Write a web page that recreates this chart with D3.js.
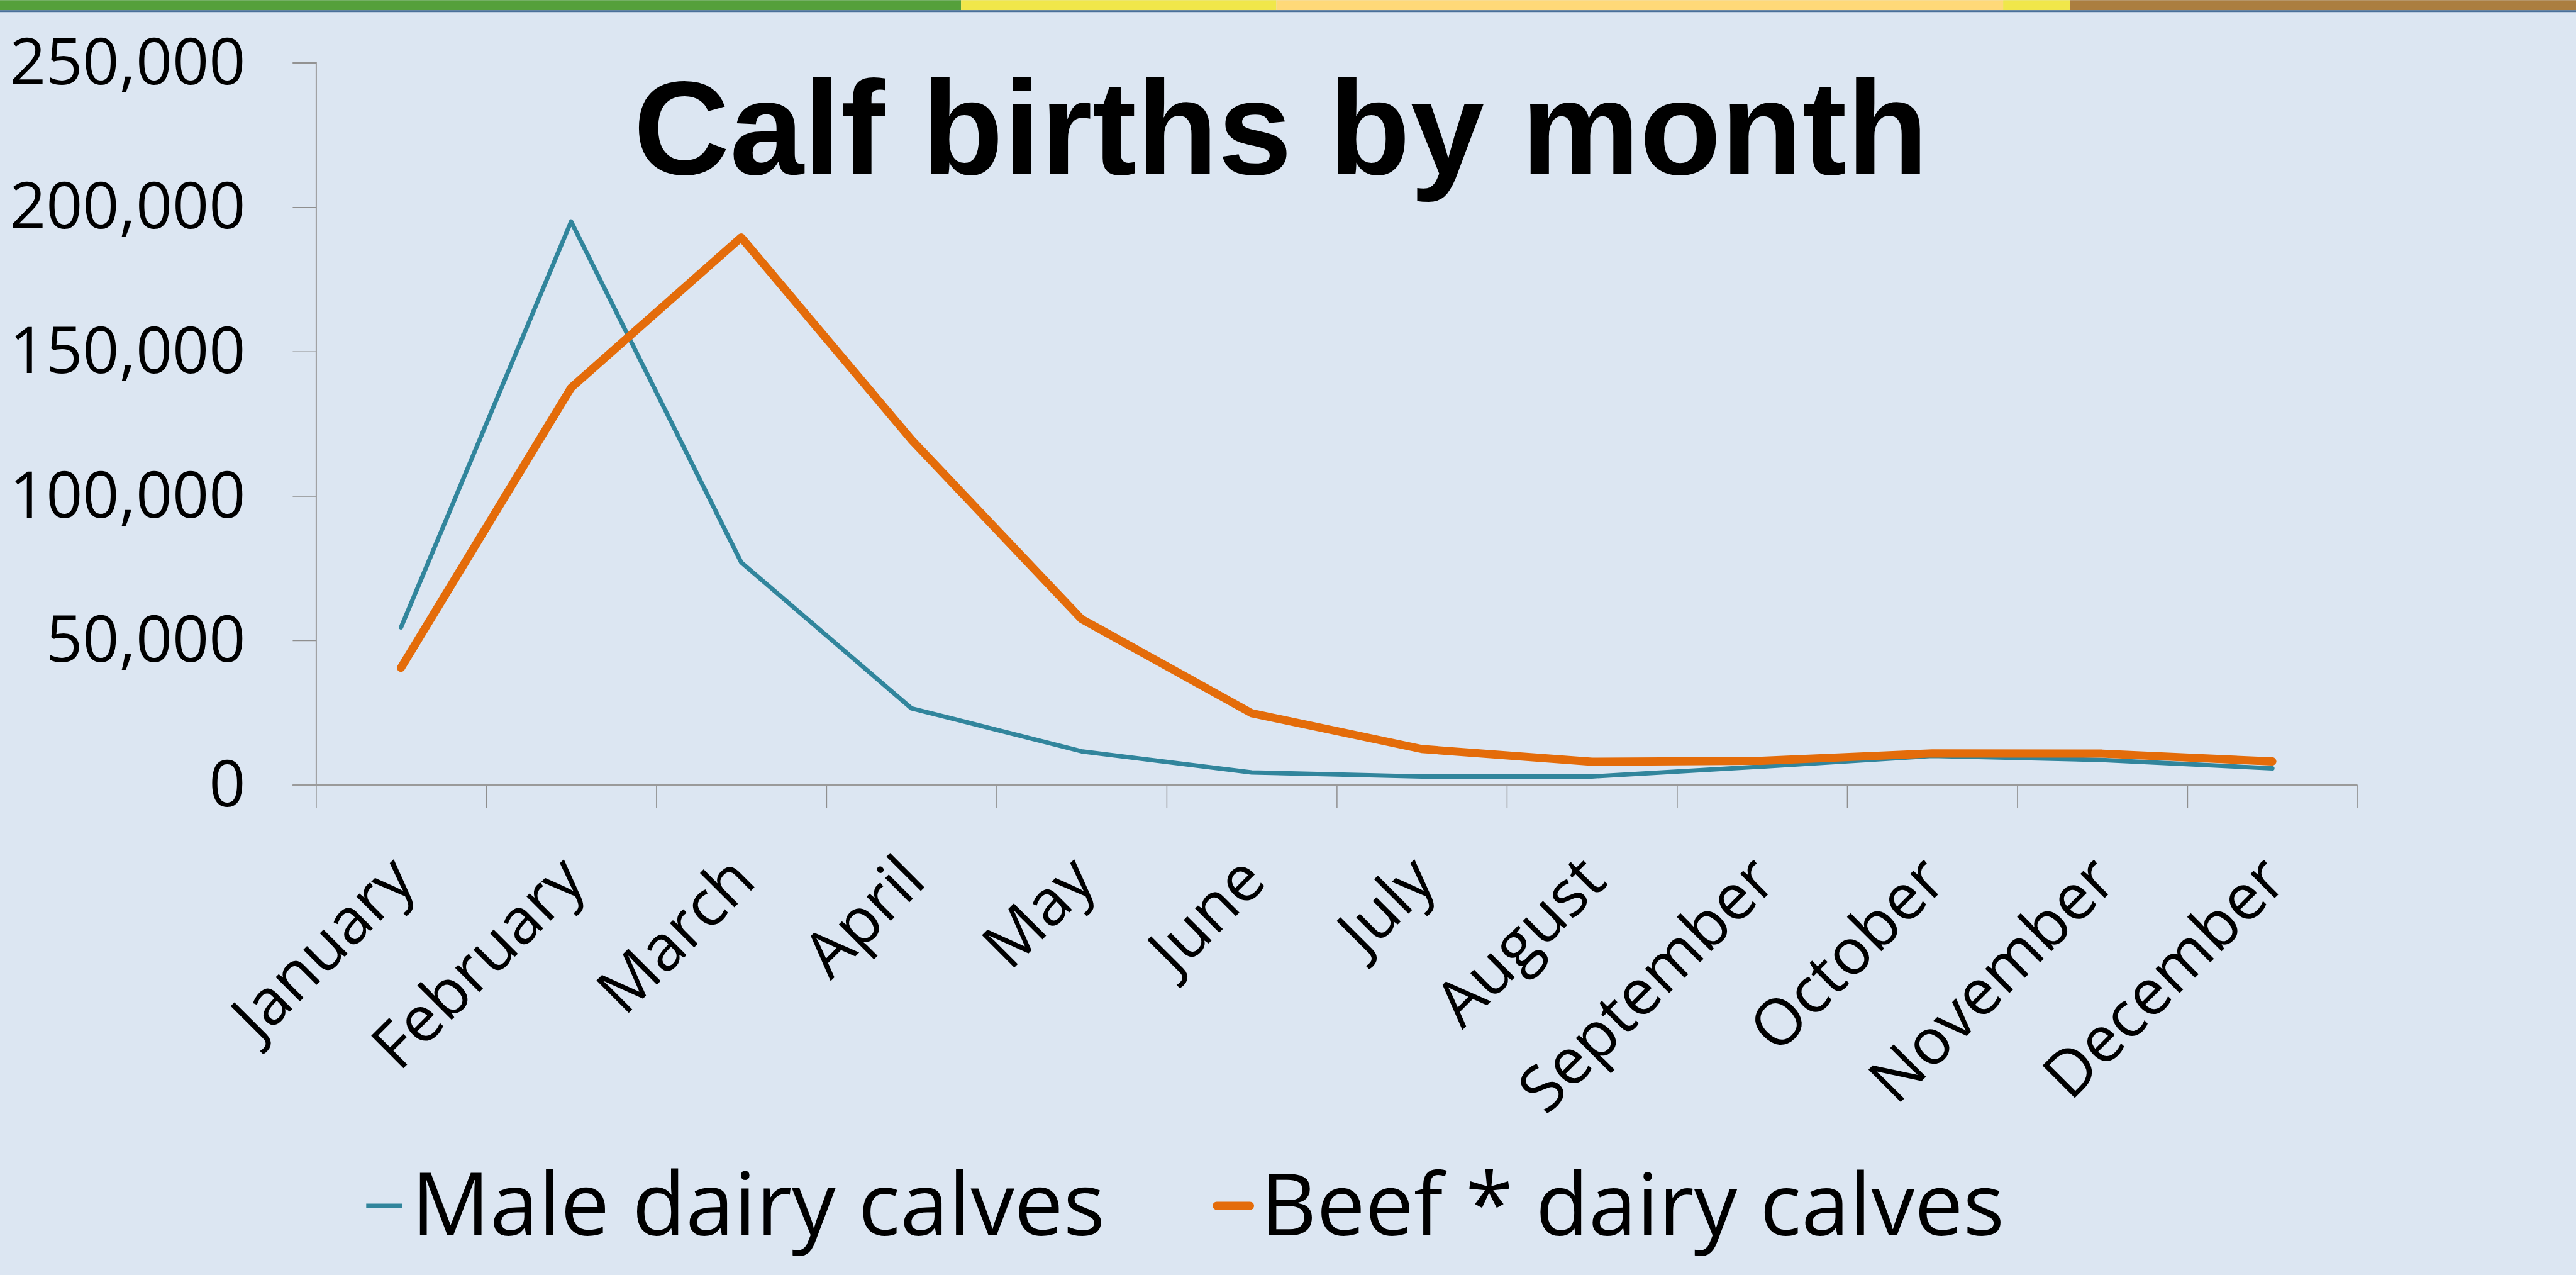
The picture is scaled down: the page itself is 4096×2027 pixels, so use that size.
<!DOCTYPE html>
<html>
<head>
<meta charset="utf-8">
<script src="https://d3js.org/d3.v7.min.js"></script>
<style>
  html, body { margin: 0; padding: 0; background: #dce6f2; overflow: hidden; }
  svg { display: block; }
</style>
</head>
<body>
<svg id="chart"></svg>
<script>
// data
const months = ['January', 'February', 'March', 'April', 'May', 'June',
  'July', 'August', 'September', 'October', 'November', 'December'];
const maleDairy = [54500, 195000, 77000, 26500, 11600, 4300, 2900, 2900, 6300, 10000, 8600, 5700];
const beefDairy = [40500, 137500, 189500, 119500, 57400, 24800, 12400, 8000, 8300, 10900, 10800, 8100];
const yTicks = [0, 50000, 100000, 150000, 200000, 250000];
const seriesNames = ['Male dairy calves', 'Beef * dairy calves'];

// top banner stripes (x ends in reference px)
const bandStops = [0, 1530, 2032, 3189, 3296, 4101];
const bandColors = ['#55a03b', '#f0e74a', '#ffd978', '#f0e74a', '#ab7e40'];

const W = 4101, H = 2029;
const svg = d3.select('#chart')
  .attr('width', 4096)
  .attr('height', 2027)
  .attr('viewBox', `0 0 ${W} ${H}`);

svg.append('rect').attr('width', W).attr('height', H).attr('fill', '#dce6f2');

svg.selectAll('rect.band')
  .data(bandColors)
  .enter().append('rect')
  .attr('class', 'band')
  .attr('x', (d, i) => bandStops[i])
  .attr('y', 0)
  .attr('width', (d, i) => bandStops[i + 1] - bandStops[i])
  .attr('height', 16)
  .attr('fill', d => d);
svg.append('rect').attr('x', 0).attr('y', 16).attr('width', W).attr('height', 3).attr('fill', '#4a709a');

const plot = { left: 503, right: 3753, top: 99.5, bottom: 1249 };

const x = d3.scaleBand()
  .domain(months)
  .range([plot.left, plot.right])
  .padding(0);
const xEdges = d3.scaleLinear().domain([0, months.length]).range([plot.left, plot.right]);
const y = d3.scaleLinear()
  .domain([0, 250000])
  .range([plot.bottom, plot.top]);

const labelFont = "'Open Sans', 'DejaVu Sans', sans-serif";

// y axis
const yAxis = svg.append('g')
  .attr('transform', `translate(${plot.left},0)`)
  .call(d3.axisLeft(y).tickValues(yTicks).tickSize(37).tickPadding(75).tickFormat(d3.format(',')));
yAxis.selectAll('line').attr('stroke', '#8f8f8f').attr('stroke-width', 1.5);
yAxis.select('.domain').attr('stroke', '#9a9a9a').attr('stroke-width', 2);
yAxis.selectAll('text')
  .attr('fill', '#000')
  .attr('font-family', labelFont)
  .attr('font-size', 100)
  .attr('dy', '0.33em');

// fit the label size to the reference width of "200,000"
const probe = yAxis.selectAll('text').filter(d => d === 200000);
const labelSize = 100 * 376 / probe.node().getComputedTextLength();
yAxis.selectAll('text').attr('font-size', labelSize);

// x axis: boundary ticks
const xTickAxis = svg.append('g')
  .attr('transform', `translate(0,${plot.bottom})`)
  .call(d3.axisBottom(xEdges).tickValues(d3.range(months.length + 1)).tickSize(37).tickFormat(''));
xTickAxis.selectAll('line').attr('stroke', '#8f8f8f').attr('stroke-width', 1.5);
xTickAxis.select('.domain').remove();
svg.append('line')
  .attr('x1', plot.left - 37).attr('x2', plot.right)
  .attr('y1', plot.bottom).attr('y2', plot.bottom)
  .attr('stroke', '#9a9a9a').attr('stroke-width', 2.5);

// x axis: slanted month labels
const xAxis = svg.append('g')
  .attr('transform', `translate(0,${plot.bottom})`)
  .call(d3.axisBottom(x).tickSize(0));
xAxis.select('.domain').remove();
xAxis.selectAll('text')
  .attr('fill', '#000')
  .attr('font-family', labelFont)
  .attr('font-size', labelSize)
  .attr('x', 0).attr('y', 0).attr('dy', 0)
  .style('text-anchor', 'end')
  .attr('transform', 'translate(27,157) rotate(-45)');

// series lines
const series = [
  { name: seriesNames[0], values: maleDairy, color: '#31859c', width: 7 },
  { name: seriesNames[1], values: beefDairy, color: '#e46c0a', width: 13 }
];
const line = d3.line()
  .x((d, i) => x(months[i]) + x.bandwidth() / 2)
  .y(d => y(d));

svg.selectAll('path.series')
  .data(series)
  .enter().append('path')
  .attr('class', 'series')
  .attr('d', d => line(d.values))
  .attr('fill', 'none')
  .attr('stroke', d => d.color)
  .attr('stroke-width', d => d.width)
  .attr('stroke-linejoin', 'round')
  .attr('stroke-linecap', 'round');

// title
svg.append('text')
  .attr('x', 2039)
  .attr('y', 277)
  .attr('text-anchor', 'middle')
  .attr('font-family', "'Liberation Sans', Arial, sans-serif")
  .attr('font-weight', 'bold')
  .attr('font-size', 212)
  .attr('fill', '#000')
  .text('Calf births by month');

// legend
const legendItems = [
  { name: seriesNames[0], color: '#31859c', width: 7, x1: 583, x2: 640, tx: 655, tw: 1104 },
  { name: seriesNames[1], color: '#e46c0a', width: 13, x1: 1937, x2: 1990, tx: 2007, tw: 1184 }
];
const legend = svg.append('g').attr('class', 'legend');
legendItems.forEach(item => {
  legend.append('line')
    .attr('x1', item.x1).attr('x2', item.x2)
    .attr('y1', 1919).attr('y2', 1919)
    .attr('stroke', item.color)
    .attr('stroke-width', item.width)
    .attr('stroke-linecap', item.width > 10 ? 'round' : 'butt');
  const t = legend.append('text')
    .attr('x', item.tx)
    .attr('y', 1966)
    .attr('font-family', labelFont)
    .attr('font-size', 150)
    .attr('fill', '#000')
    .text(item.name);
  t.attr('font-size', 150 * item.tw / t.node().getComputedTextLength());
});
</script>
</body>
</html>
